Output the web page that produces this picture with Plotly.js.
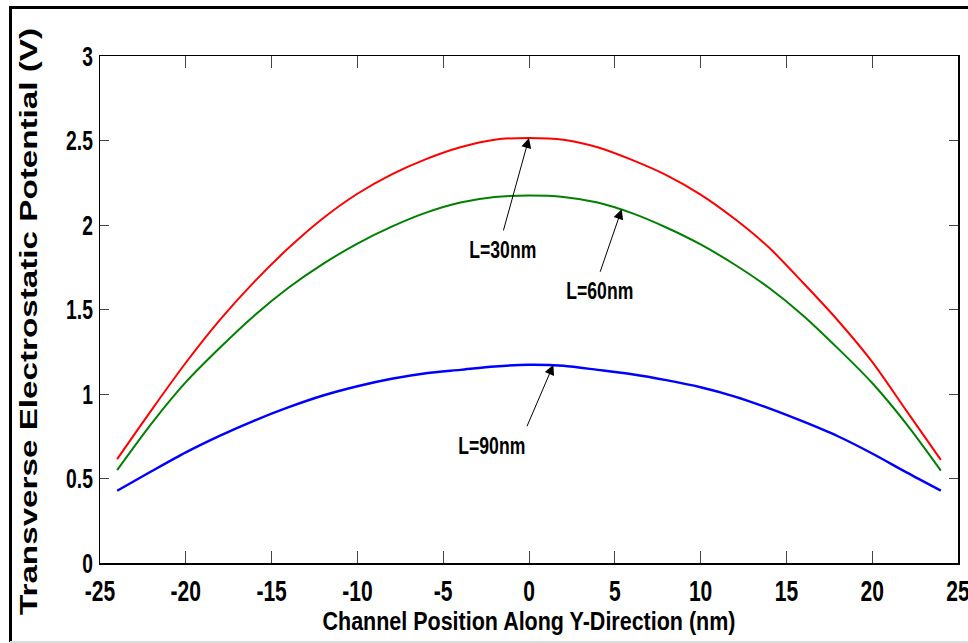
<!DOCTYPE html>
<html>
<head>
<meta charset="utf-8">
<script src="https://cdn.plot.ly/plotly-3.0.1.min.js"></script>
<style>
html,body{margin:0;padding:0;background:#fff;}
#chart{width:968px;height:643px;}
</style>
</head>
<body>
<div id="chart"></div>
<script>
// Data
const positionNm = [-24,-22,-20,-18,-16,-14,-12,-10,-8,-6,-4,-2,0,2,4,6,8,10,12,14,16,18,20,22,24];
const potentialL30 = [0.615,0.905,1.185,1.44,1.665,1.865,2.04,2.185,2.30,2.39,2.46,2.505,2.515,2.505,2.46,2.385,2.295,2.18,2.035,1.865,1.655,1.435,1.19,0.90,0.61];
const potentialL60 = [0.55,0.825,1.07,1.275,1.465,1.63,1.77,1.89,1.99,2.073,2.133,2.166,2.174,2.166,2.133,2.07,1.985,1.885,1.765,1.627,1.462,1.27,1.065,0.822,0.547];
const potentialL90 = [0.428,0.543,0.655,0.754,0.843,0.922,0.991,1.046,1.09,1.123,1.143,1.163,1.173,1.167,1.143,1.117,1.082,1.04,0.985,0.915,0.836,0.75,0.648,0.536,0.428];
const xTicks = [-25,-20,-15,-10,-5,0,5,10,15,20,25];
const yTicks = [0,0.5,1,1.5,2,2.5,3];
const yTickText = ['0','0.5','1','1.5','2','2.5','3'];
const seriesNames = ['L=30nm','L=60nm','L=90nm'];
// arrow heads (data coords) and label positions (data coords)
const arrowHeadX = [0, 5.4, 1.42];
const arrowHeadY = [2.515, 2.093, 1.173];
const labelX = [-1.52, 4.14, -2.16];
const labelY = [1.85, 1.607, 0.69];

const fam = '"Liberation Sans", Arial, sans-serif';

const traces = [
  {x: positionNm, y: potentialL30, name: seriesNames[0], mode: 'lines', line: {color: '#ff0000', width: 2, shape: 'spline', smoothing: 0.8}},
  {x: positionNm, y: potentialL60, name: seriesNames[1], mode: 'lines', line: {color: '#008000', width: 2, shape: 'spline', smoothing: 0.8}},
  {x: positionNm, y: potentialL90, name: seriesNames[2], mode: 'lines', line: {color: '#0000ff', width: 2.4, shape: 'spline', smoothing: 0.8}}
];

const arrowOffsets = [[-26, 94], [-22, 64], [-27, 63]];
const annotations = [];
for (let i = 0; i < 3; i++) {
  annotations.push({
    x: arrowHeadX[i], y: arrowHeadY[i], xref: 'x', yref: 'y',
    text: '', showarrow: true, arrowhead: 2, arrowsize: 2, arrowwidth: 1,
    arrowcolor: '#000', ax: arrowOffsets[i][0], ay: arrowOffsets[i][1], standoff: 0
  });
  annotations.push({
    x: labelX[i], y: labelY[i], xref: 'x', yref: 'y',
    text: seriesNames[i], showarrow: false,
    font: {family: fam, size: 23, color: '#000', weight: 'bold'}
  });
}

// outer frame in paper coords (plot area: px 100..958, 56..563)
const pw = 858, ph = 507;
const px = v => (v - 100) / pw;
const py = v => (563 - v) / ph;
const shapes = [
  {type: 'line', xref: 'paper', yref: 'paper', x0: px(10.5), x1: px(10.5), y0: py(6), y1: py(642), line: {color: '#000', width: 3}},
  {type: 'line', xref: 'paper', yref: 'paper', x0: px(9), x1: px(968), y0: py(7.5), y1: py(7.5), line: {color: '#000', width: 3}},
  {type: 'line', xref: 'paper', yref: 'paper', x0: px(10), x1: px(968), y0: py(642), y1: py(642), line: {color: '#dddddd', width: 2}}
];

const layout = {
  width: 968, height: 643,
  margin: {l: 100, r: 10, t: 56, b: 80},
  paper_bgcolor: '#fff', plot_bgcolor: '#fff',
  showlegend: false,
  xaxis: {
    range: [-25, 25], tickvals: xTicks, ticktext: xTicks.map(String),
    ticks: 'inside', ticklen: 12, tickwidth: 1, tickcolor: '#444',
    showline: true, linecolor: '#000', linewidth: 1.5, mirror: 'ticks',
    showgrid: false, zeroline: false, ticklabeloverflow: 'allow',
    tickfont: {family: fam, size: 30, color: '#000', weight: 'bold'},
    title: {text: 'Channel Position Along Y-Direction (nm)', font: {family: fam, size: 25, color: '#000', weight: 'bold'}, standoff: 4}
  },
  yaxis: {
    range: [0, 3], tickvals: yTicks, ticktext: yTickText,
    ticks: 'inside', ticklen: 9, tickwidth: 1, tickcolor: '#444',
    showline: true, linecolor: '#000', linewidth: 1.5, mirror: 'ticks',
    showgrid: false, zeroline: false,
    tickfont: {family: fam, size: 28, color: '#000', weight: 'bold'},
    title: {text: 'Transverse Electrostatic Potential (V)', font: {family: fam, size: 24, color: '#000', weight: 'bold'}, standoff: 11}
  },
  annotations: annotations,
  shapes: shapes
};

Plotly.newPlot('chart', traces, layout, {displayModeBar: false, staticPlot: true}).then(function (gd) {
  // the reference figure is horizontally condensed: squeeze horizontal texts
  function squeeze(sel, f) {
    gd.querySelectorAll(sel).forEach(function (t) {
      const L = t.getComputedTextLength();
      if (L > 0) {
        t.setAttribute('textLength', (L * f).toFixed(1));
        t.setAttribute('lengthAdjust', 'spacingAndGlyphs');
      }
    });
  }
  squeeze('.xtick text', 0.70);
  squeeze('.ytick text', 0.69);
  squeeze('.annotation-text', 0.765);
  const xt = gd.querySelector('.g-xtitle text');
  if (xt) { xt.setAttribute('textLength', '413'); xt.setAttribute('lengthAdjust', 'spacingAndGlyphs'); }
  const yt = gd.querySelector('.g-ytitle text');
  if (yt) {
    yt.setAttribute('textLength', '587');
    yt.setAttribute('lengthAdjust', 'spacingAndGlyphs');
    const tr = yt.getAttribute('transform') || '';
    yt.setAttribute('transform', 'translate(2,12) ' + tr);
  }
});
</script>
</body>
</html>
